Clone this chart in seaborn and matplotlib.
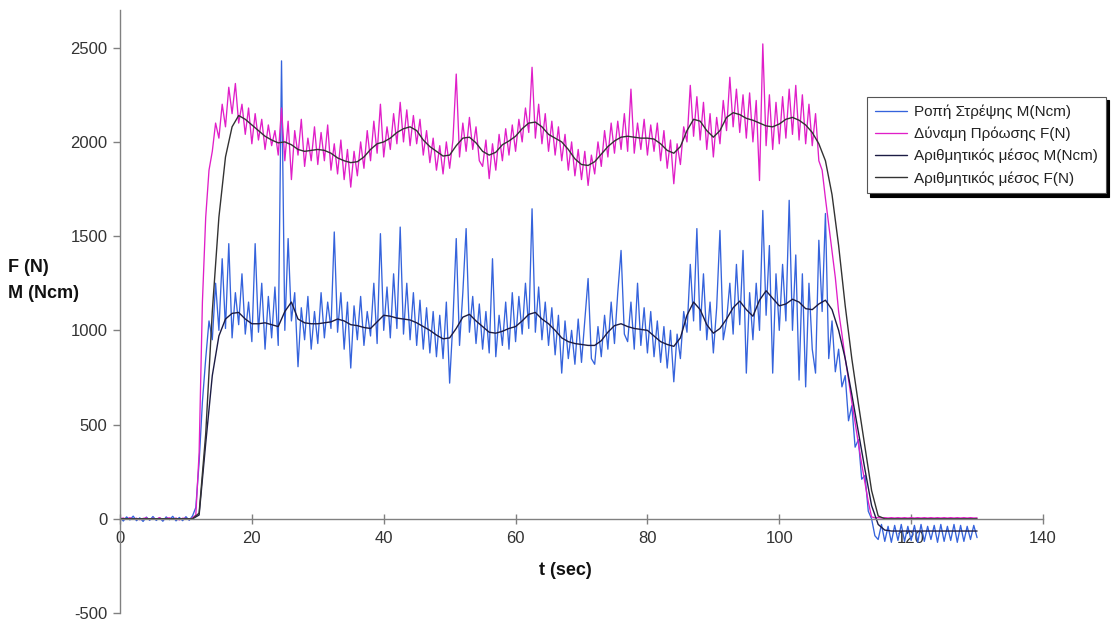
import matplotlib
matplotlib.use("Agg")
import matplotlib.pyplot as plt
import seaborn as sns
import numpy as np

t_raw = np.arange(261) * 0.5
t_avg = np.arange(131)

force_raw = [
    0, 4, -3, 6, -2, 3, -5, 2, 5, -4,
    3, -2, 6, -4, 2, 5, -3, 4, -6, 3,
    2, -4, 5, 20, 350, 1150, 1600, 1850, 1950, 2100,
    2020, 2200, 2080, 2290, 2150, 2310, 2100, 2200, 2040, 2180,
    1990, 2150, 2010, 2120, 1960, 2090, 1980, 2060, 1930, 2180,
    1900, 2110, 1800, 2060, 1930, 2120, 1870, 2020, 1900, 2080,
    1880, 2050, 1900, 2090, 1850, 1990, 1830, 2010, 1800, 1960,
    1760, 1950, 1820, 2000, 1860, 2060, 1900, 2110, 1940, 2200,
    1920, 2080, 1960, 2150, 1990, 2210, 2000, 2170, 1980, 2140,
    1990, 2120, 1930, 2060, 1890, 2020, 1850, 1980, 1830, 2000,
    1860, 2010, 2360, 1920, 2100, 1950, 2130, 1960, 2080, 1900,
    1870, 2010, 1805, 1990, 1850, 2040, 1900, 2070, 1930, 2090,
    1950, 2120, 2000, 2180, 2050, 2396, 2020, 2200, 1990, 2150,
    1950, 2110, 1930, 2080, 1900, 2040, 1850, 2000, 1820, 1960,
    1800, 1950, 1769, 1930, 1830, 2000, 1870, 2060, 1920, 2100,
    1940, 2110, 1960, 2150, 1950, 2280, 1940, 2100, 1960, 2120,
    1930, 2090, 1950, 2100, 1900, 2060, 1860, 2010, 1778, 1990,
    1880, 2080, 2000, 2300, 2030, 2240, 2010, 2210, 1960, 2150,
    1920, 2130, 1990, 2220, 2060, 2343, 2080, 2280, 2050, 2250,
    2020, 2260, 2000, 2220, 1795, 2520, 1980, 2250, 1960, 2210,
    1990, 2240, 2020, 2280, 2040, 2300, 2010, 2250, 1990, 2200,
    1980, 2150, 1900, 1850, 1700, 1560, 1420, 1280, 1100, 980,
    850, 740, 620, 510, 400, 290, 190, 90, 10, 5,
    6, 4, 6, 4, 6, 4, 6, 4, 6, 4,
    6, 4, 6, 4, 6, 4, 6, 4, 6, 4,
    6, 4, 6, 4, 6, 4, 6, 4, 6, 4,
    5,
]

torque_raw = [
    8, -12, 10, -6, 14, -10, 5, -14, 9, -8,
    12, -9, 6, -13, 10, -5, 13, -11, 7, -10,
    11, -8, 15, 60, 300, 620, 850, 1050, 950, 1250,
    1000, 1380, 1010, 1460, 960, 1200, 1030, 1300, 980, 1150,
    940, 1460, 990, 1250, 900, 1180, 960, 1230, 920, 2430,
    1000, 1487, 1050, 1200, 807, 1120, 950, 1180, 900, 1100,
    930, 1200, 960, 1150, 1010, 1522, 990, 1200, 900, 1150,
    800, 1130, 950, 1180, 920, 1100, 970, 1250, 930, 1513,
    1000, 1230, 960, 1300, 1010, 1548, 980, 1250, 950, 1200,
    920, 1160, 900, 1120, 880, 1100, 860, 1080, 850, 1150,
    720, 1050, 1487, 920, 1200, 1540, 990, 1180, 930, 1140,
    900, 1100, 880, 1380, 860, 1080, 920, 1150, 900, 1200,
    940, 1180, 980, 1250, 1010, 1645, 990, 1230, 950, 1150,
    920, 1120, 870, 1080, 773, 1050, 850, 1000, 820, 1060,
    830, 1050, 1275, 850, 820, 1020, 860, 1080, 900, 1150,
    930, 1200, 1424, 980, 940, 1150, 900, 1250, 920, 1120,
    880, 1100, 860, 1050, 830, 1020, 800, 1000, 727, 980,
    850, 1100, 990, 1350, 1050, 1540, 1000, 1300, 950, 1150,
    880, 1120, 1530, 950, 1050, 1250, 980, 1350, 1030, 1424,
    773, 1200, 950, 1250, 1000, 1636, 1080, 1450, 773, 1300,
    1000, 1350, 1050, 1690, 1000, 1400, 736, 1300, 700, 1250,
    900, 773, 1478, 1100, 1620, 850, 1050, 780, 900, 700,
    760, 520, 600, 380, 420, 210, 230, 40, 0, -90,
    -110, -30, -120, -40, -125, -35, -115, -30, -120, -40,
    -115, -35, -125, -30, -120, -40, -110, -35, -125, -30,
    -120, -40, -115, -30, -125, -35, -120, -40, -110, -35,
    -100,
]

force_avg = [
    0, 0, 0, 0, 0, 0, 0, 0, 0, 0,
    0, 0, 30, 450, 1100, 1600, 1920, 2080, 2140, 2120,
    2090, 2060, 2030, 2010, 1995, 2000, 1985, 1960, 1950, 1955,
    1960, 1955, 1940, 1915, 1900, 1890, 1895, 1920, 1960, 1990,
    2000, 2020, 2050, 2070, 2080, 2060, 2010, 1975, 1950, 1925,
    1930, 1980, 2020, 2025, 1995, 1950, 1930, 1945, 1985, 2005,
    2030, 2070, 2100, 2105, 2080, 2040, 2020, 2000, 1960, 1910,
    1880, 1875, 1895, 1935, 1975, 2005, 2025, 2030, 2025, 2020,
    2020, 2015, 1990, 1955, 1940, 1975, 2060, 2120, 2110, 2060,
    2025, 2060, 2130, 2155, 2145, 2125, 2115, 2100, 2085, 2080,
    2095, 2120, 2130, 2115, 2090, 2050, 1990, 1900, 1720, 1450,
    1130, 850, 610, 380, 150, 15, 0, 0, 0, 0,
    0, 0, 0, 0, 0, 0, 0, 0, 0, 0,
    0,
]

torque_avg = [
    0, 0, 0, 0, 0, 0, 0, 0, 0, 0,
    0, 0, 20, 400, 760, 970, 1060, 1090, 1095, 1060,
    1035, 1035, 1040, 1030, 1020, 1100, 1150, 1060, 1040, 1035,
    1035, 1040, 1045, 1060, 1050, 1030, 1025, 1015, 1010, 1045,
    1080, 1075, 1065, 1060, 1055, 1040, 1020, 1000, 975, 955,
    960, 1010, 1070, 1085, 1050, 1020, 990, 985, 995, 1010,
    1020, 1050, 1085, 1095, 1060, 1035, 1000, 960, 940, 930,
    925, 920, 920, 945, 990, 1025, 1035, 1020, 1010, 1005,
    1000, 970, 940, 925, 915, 960, 1080, 1150, 1110, 1030,
    985, 1010, 1060, 1120, 1155, 1110, 1075, 1160, 1210, 1170,
    1130, 1140, 1165, 1150, 1115, 1110, 1140, 1160, 1110, 1000,
    850, 660, 460, 260, 70, -30, -60, -65, -65, -65,
    -65, -65, -65, -65, -65, -65, -65, -65, -65, -65,
    -65,
]

labels = [
    "Ροπή Στρέψης M(Ncm)",
    "Δύναμη Πρόωσης F(N)",
    "Αριθμητικός μέσος M(Ncm)",
    "Αριθμητικός μέσος F(N)",
]

sns.set_theme(style="white")
plt.rcParams["font.family"] = ["Liberation Sans", "DejaVu Sans"]
plt.rcParams["axes.unicode_minus"] = False

fig = plt.figure(figsize=(11.16, 6.23), dpi=100)
ax = fig.add_axes([120 / 1116, 10 / 623, 923 / 1116, 603 / 623])

sns.lineplot(x=t_raw, y=torque_raw, ax=ax, color="#3563dc", linewidth=0.95,
             estimator=None, errorbar=None, label=labels[0])
sns.lineplot(x=t_raw, y=force_raw, ax=ax, color="#e01fc8", linewidth=0.95,
             estimator=None, errorbar=None, label=labels[1])
sns.lineplot(x=t_avg, y=torque_avg, ax=ax, color="#1c1c44", linewidth=1.0,
             estimator=None, errorbar=None, label=labels[2])
sns.lineplot(x=t_avg, y=force_avg, ax=ax, color="#333333", linewidth=1.0,
             estimator=None, errorbar=None, label=labels[3])

ax.set_xlim(0, 140)
ax.set_ylim(-500, 2700)
ax.set_xticks(range(0, 141, 20))
ax.set_yticks(range(-500, 2501, 500))

ax.spines["bottom"].set_position(("data", 0))
ax.spines[["top", "right"]].set_visible(False)
for s in ["left", "bottom"]:
    ax.spines[s].set_color("#808080")
    ax.spines[s].set_linewidth(1.0)

ax.tick_params(axis="x", bottom=True, direction="inout", length=7, width=1,
               color="#808080", labelsize=12, labelcolor="#333333", pad=5)
ax.tick_params(axis="y", left=True, direction="out", length=5, width=1,
               color="#808080", labelsize=12, labelcolor="#333333", pad=4)

ax.set_xlabel("t (sec)", fontsize=13, fontweight="bold", color="#111111", va="center")
ax.xaxis.set_label_coords(0.482, 0.071)
ax.set_ylabel("F (N)\nM (Ncm)", rotation=0, fontsize=13, fontweight="bold",
              color="#111111", ha="left", va="center", linespacing=1.7)
ax.yaxis.set_label_coords(-0.121, 0.552)

leg = ax.legend(
    loc="upper left",
    bbox_to_anchor=(867 / 1116, 1 - 97 / 623),
    bbox_transform=fig.transFigure,
    fontsize=11,
    frameon=True,
    fancybox=False,
    shadow={"ox": 2, "oy": -2.5, "color": "black", "alpha": 1},
    edgecolor="#555555",
    borderpad=0.5,
    labelspacing=0.5,
    handlelength=2.1,
    handletextpad=0.5,
    borderaxespad=0,
)
leg.get_frame().set_linewidth(0.8)
for text in leg.get_texts():
    text.set_color("#222222")

fig.savefig("out.png", dpi=100)
